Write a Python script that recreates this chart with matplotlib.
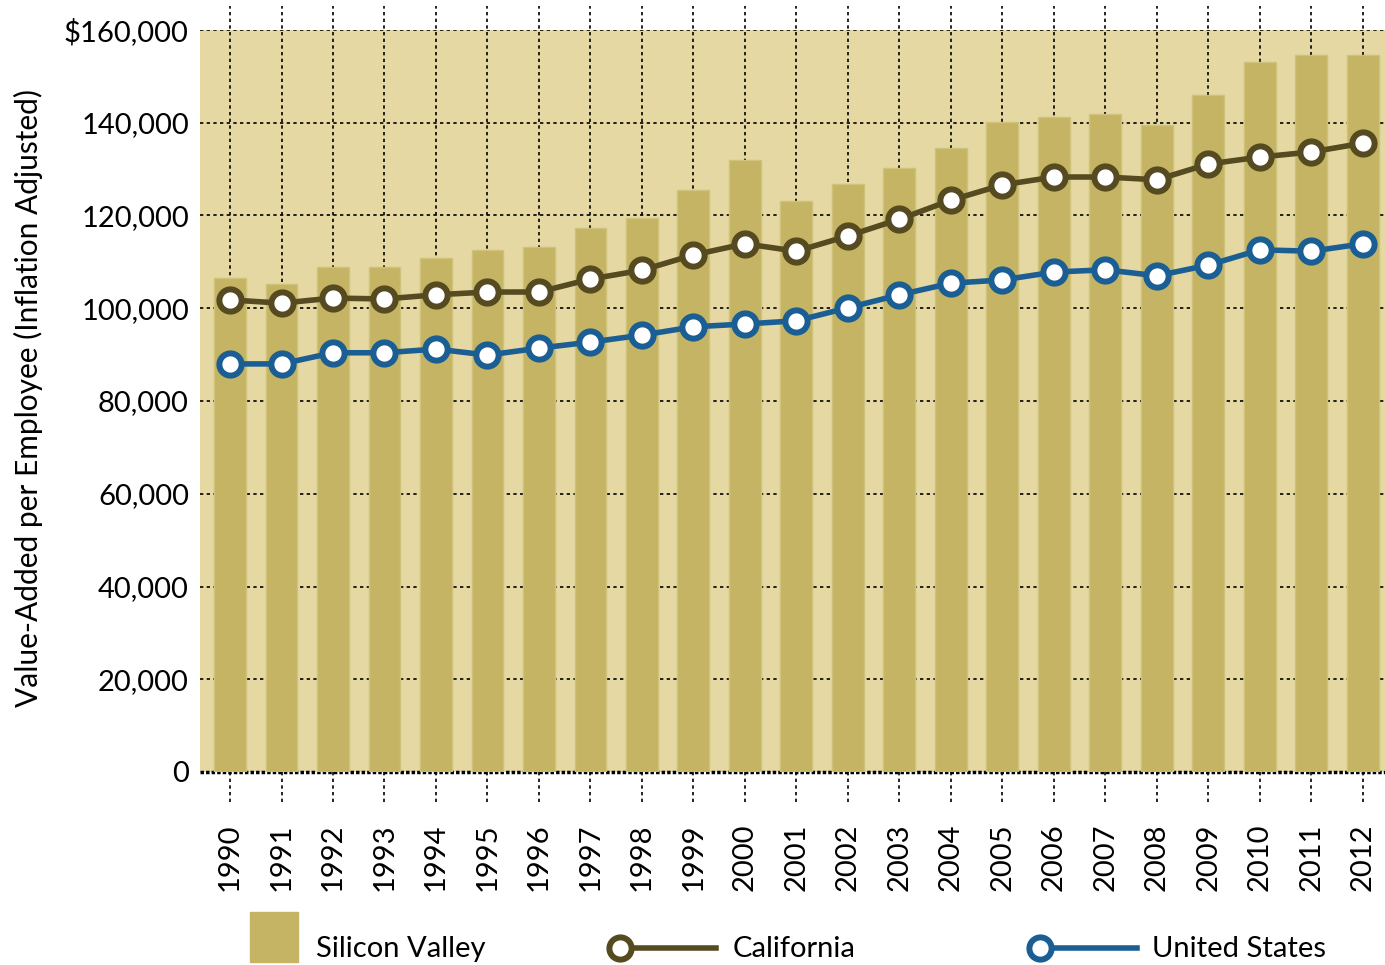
import matplotlib
matplotlib.use("Agg")
import matplotlib.pyplot as plt
import matplotlib.transforms as mtransforms
from matplotlib.patches import Rectangle
from matplotlib.lines import Line2D
import numpy as np

years = [str(y) for y in range(1990, 2013)]
silicon_valley = [106500, 105200, 108900, 108900, 110800, 112600, 113200, 117300, 119500,
                  125500, 132000, 123100, 126800, 130200, 134600, 140200, 141200, 141900,
                  139500, 146000, 153100, 154600, 154600]
california = [101800, 101100, 102200, 102000, 102900, 103500, 103500, 106300, 108200,
              111500, 113900, 112300, 115600, 119200, 123300, 126600, 128300, 128300,
              127700, 131100, 132600, 133700, 135600]
united_states = [88000, 88000, 90400, 90400, 91200, 89900, 91400, 92700, 94200,
                 96000, 96600, 97300, 100100, 102900, 105400, 106100, 107800, 108300,
                 107000, 109300, 112600, 112300, 113900]
yticks = [0, 20000, 40000, 60000, 80000, 100000, 120000, 140000, 160000]
ytick_labels = ["0", "20,000", "40,000", "60,000", "80,000", "100,000", "120,000",
                "140,000", "$160,000"]
legend_labels = ["Silicon Valley", "California", "United States"]

BG = "#E5D8A2"
BAR = "#C4B464"
CA = "#554A20"
US = "#1A5E94"
FONT = ["Lato", "DejaVu Sans"]
plt.rcParams["font.family"] = FONT

MS, MEW, LW = 16, 4.3, 4.0

W, H = 1385, 965
fig = plt.figure(figsize=(W / 100, H / 100), dpi=100)
ax = fig.add_axes([200 / W, (H - 772) / H, (W - 200) / W, (772 - 30) / H])
ax.set_facecolor(BG)

x = np.arange(len(years))
ax.set_xlim(-0.583, 22.43)
ax.set_ylim(0, 160000)

# horizontal grid lines
for yt in yticks[1:]:
    ax.axhline(yt, color="black", lw=1.2, ls=(0, (2, 2)), zorder=1)
# zero line (dense)
ax.axhline(0, color="black", lw=2.5, ls=(0, (1, 0.6)), zorder=1, clip_on=False)

# vertical dotted lines extending above and below the plot area
trans = mtransforms.blended_transform_factory(ax.transData, ax.transAxes)
for xi in x:
    ax.plot([xi, xi], [-0.040, 1.032], transform=trans, color="black", lw=1.2,
            ls=(0, (2, 2)), zorder=1, clip_on=False)

ax.bar(x, silicon_valley, width=0.62, color=BAR, edgecolor="#CFC27A", lw=1, zorder=2)
ax.plot(x, california, color=CA, lw=LW, marker="o", ms=MS, mfc="white",
        mec=CA, mew=MEW, zorder=4)
ax.plot(x, united_states, color=US, lw=LW, marker="o", ms=MS, mfc="white",
        mec=US, mew=MEW, zorder=4)

for s in ax.spines.values():
    s.set_visible(False)

ax.set_yticks(yticks)
ax.set_yticklabels(ytick_labels, fontsize=21)
ax.tick_params(axis="y", length=0, pad=8)
ax.set_xticks(x)
ax.set_xticklabels(years, rotation=90, fontsize=21, va="top")
ax.tick_params(axis="x", length=0, pad=37)

fig.text(28 / W, 1 - 398 / H, "Value-Added per Employee (Inflation Adjusted)",
         rotation=90, fontsize=21.5, ha="center", va="center")

# legend (custom layout in pixel coordinates)
lax = fig.add_axes([0, 0, 1, 1], facecolor="none")
lax.set_xlim(0, W)
lax.set_ylim(H, 0)
lax.axis("off")
lax.add_patch(Rectangle((250, 912), 48, 50, color=BAR))
lax.text(316, 949, legend_labels[0], fontsize=21, va="center", ha="left")
lax.add_line(Line2D([620, 716], [948, 948], color=CA, lw=LW))
lax.add_line(Line2D([620], [948], color=CA, marker="o", ms=MS, mfc="white", mec=CA, mew=MEW))
lax.text(733, 949, legend_labels[1], fontsize=21, va="center", ha="left")
lax.add_line(Line2D([1040, 1137], [948, 948], color=US, lw=LW))
lax.add_line(Line2D([1040], [948], color=US, marker="o", ms=MS, mfc="white", mec=US, mew=MEW))
lax.text(1152, 949, legend_labels[2], fontsize=21, va="center", ha="left")

fig.savefig("out.png", dpi=100)
